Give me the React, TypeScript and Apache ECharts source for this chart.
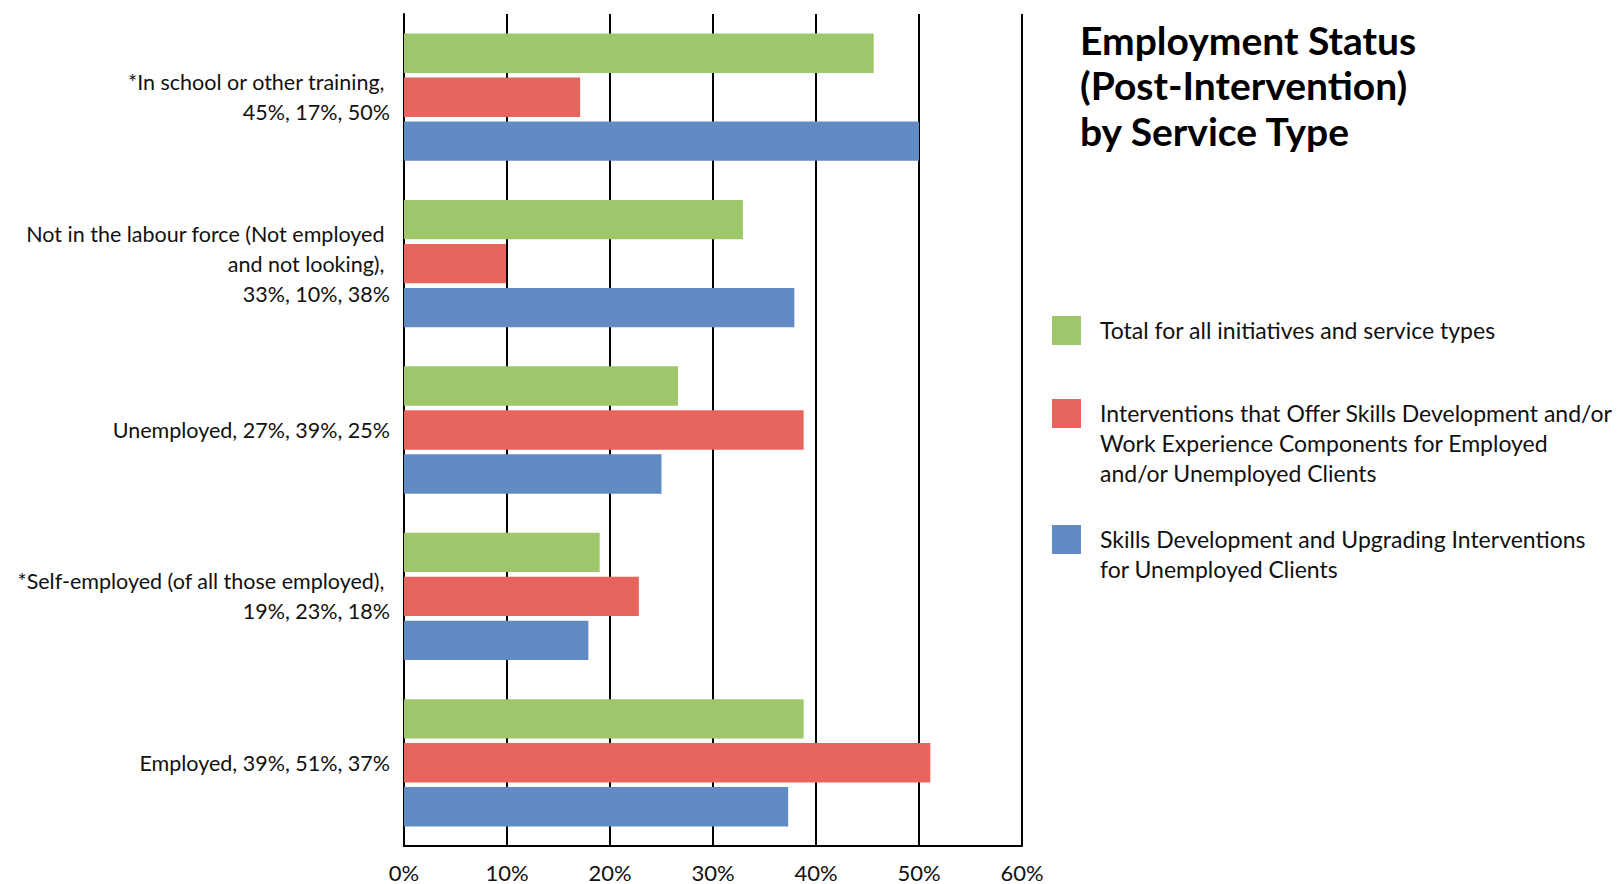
import React, { useEffect, useRef } from "react";
import * as echarts from "echarts";

const categories = [
  "*In school or other training, \n45%, 17%, 50%",
  "Not in the labour force (Not employed \nand not looking), \n33%, 10%, 38%",
  "Unemployed, 27%, 39%, 25%",
  "*Self-employed (of all those employed), \n19%, 23%, 18%",
  "Employed, 39%, 51%, 37%",
];

const seriesNames = [
  "Total for all initiatives and service types",
  "Interventions that Offer Skills Development and/or\nWork Experience Components for Employed\nand/or Unemployed Clients",
  "Skills Development and Upgrading Interventions\nfor Unemployed Clients",
];

const totalAll = [45.6, 32.9, 26.6, 19.0, 38.8];
const skillsWork = [17.1, 9.9, 38.8, 22.8, 51.1];
const skillsUnemployed = [50.0, 37.9, 25.0, 17.9, 37.3];

const colors = ["#9dc76a", "#e8655f", "#628bc4"];

const titleText = "Employment Status\n(Post-Intervention)\nby Service Type";

const FONT = "Lato, 'Open Sans', sans-serif";

export default function App() {
  const ref = useRef<HTMLDivElement>(null);

  useEffect(() => {
    if (!ref.current) return;
    const chart = echarts.init(ref.current, undefined, { renderer: "svg" });
    const data = [totalAll, skillsWork, skillsUnemployed];

    const legendTops = [316, 399, 525];
    const legendGraphics: any[] = [];
    seriesNames.forEach((name, i) => {
      legendGraphics.push({
        type: "rect",
        left: 1052,
        top: legendTops[i],
        shape: { width: 29, height: 29 },
        style: { fill: colors[i] },
      });
      legendGraphics.push({
        type: "text",
        left: 1100,
        top: legendTops[i] - 1,
        style: {
          text: name,
          font: `23px ${FONT}`,
          fill: "#111",
          lineHeight: 30,
        },
      });
    });

    chart.setOption({
      animation: false,
      backgroundColor: "#fff",
      title: {
        text: titleText,
        left: 1080,
        top: 17,
        padding: 0,
        textStyle: {
          fontFamily: FONT,
          fontWeight: "bold",
          fontSize: 39,
          lineHeight: 45.5,
          color: "#000",
        },
      },
      grid: { left: 404, top: 14, width: 618, height: 832 },
      xAxis: {
        type: "value",
        min: 0,
        max: 60,
        interval: 10,
        axisLine: { show: true, lineStyle: { color: "#000", width: 2 } },
        axisTick: { show: false },
        splitLine: { show: true, lineStyle: { color: "#000", width: 2 } },
        axisLabel: {
          formatter: "{value}%",
          fontFamily: FONT,
          fontSize: 22,
          color: "#111",
          margin: 15,
        },
      },
      yAxis: {
        type: "category",
        data: categories,
        inverse: true,
        axisLine: { show: true, lineStyle: { color: "#000", width: 2 } },
        axisTick: { show: false },
        axisLabel: {
          fontFamily: FONT,
          fontSize: 21.5,
          lineHeight: 30,
          color: "#111",
          margin: 14,
          align: "right",
        },
      },
      series: data.map((vals, i) => ({
        type: "bar",
        name: seriesNames[i],
        data: vals,
        itemStyle: { color: colors[i] },
        barCategoryGap: "23.5%",
        barGap: "11.7%",
      })),
      graphic: legendGraphics,
    });

    return () => chart.dispose();
  }, []);

  return (
    <div
      ref={ref}
      style={{ position: "absolute", left: 0, top: 0, width: 1623, height: 884 }}
    />
  );
}
